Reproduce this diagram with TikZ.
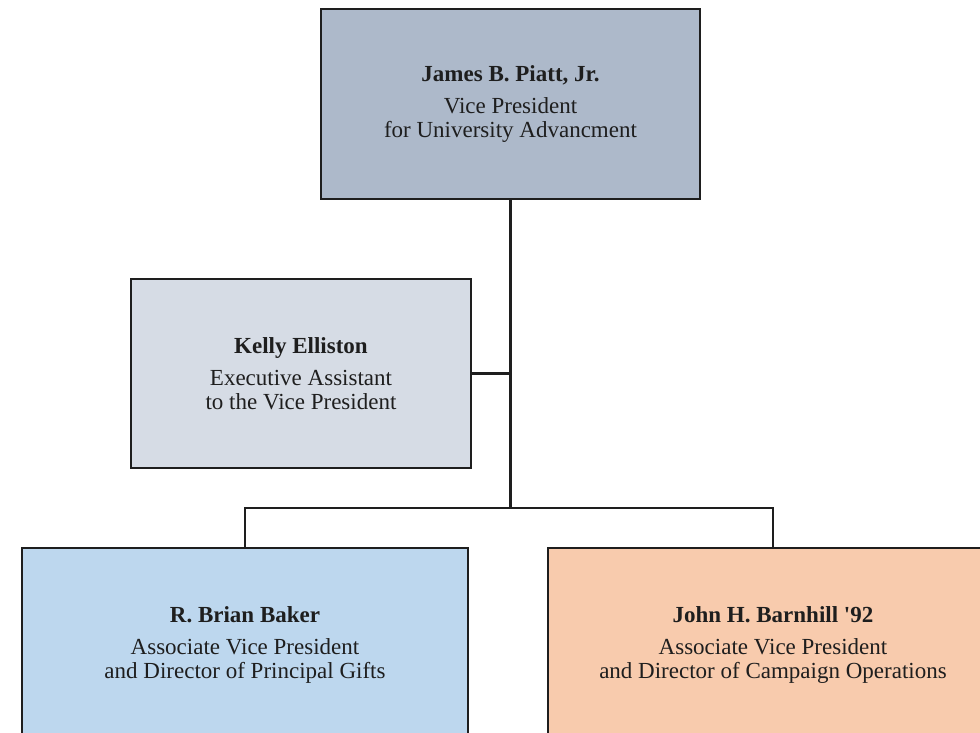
\documentclass[tikz,border=0pt]{standalone}
\usepackage{fontspec}
\setmainfont{Liberation Serif}
\usepackage{xcolor}
\usetikzlibrary{positioning}
\definecolor{headcolor}{HTML}{ADB9CA}
\definecolor{assistcolor}{HTML}{D6DCE5}
\definecolor{giftscolor}{HTML}{BDD7EE}
\definecolor{campcolor}{HTML}{F8CBAD}
\definecolor{inkcolor}{HTML}{1E1E1E}
\newcommand{\person}[2]{{\bfseries #1}\\[8.5pt] #2}

\begin{document}
\begin{tikzpicture}[
    x=1pt, y=-1pt,
    box/.style={draw=inkcolor, line width=2.8pt, align=center, inner sep=0pt, text=inkcolor, font=\fontsize{23}{24}\selectfont},
    link/.style={draw=inkcolor, line width=2.4pt}
]
    \useasboundingbox (0,0) rectangle (980,733);
    \clip (0,0) rectangle (980,733);
    % Vice President
    \node[box, fill=headcolor, minimum width=379pt, minimum height=190pt] (vp) at (510.5,104)
        {\person{James B. Piatt, Jr.}{Vice President\\for University Advancment}};
    % Assistant
    \node[box, fill=assistcolor, minimum width=340pt, minimum height=189pt] (assist) at (301,373.5)
        {\person{Kelly Elliston}{Executive Assistant\\to the Vice President}};
    % Associate Vice Presidents
    \node[box, fill=giftscolor, minimum width=446pt, minimum height=194pt] (gifts) at (245,645)
        {\person{R. Brian Baker}{Associate Vice President\\and Director of Principal Gifts}};
    \node[box, fill=campcolor, minimum width=450pt, minimum height=194pt] (camp) at (773,645)
        {\person{John H. Barnhill \textquotesingle92}{Associate Vice President\\and Director of Campaign Operations}};
    
    % Connections
    \coordinate (split) at (vp.south |- 0,508);
    \draw[link] (vp.south) -- (split);
    \draw[link] (assist.east) -- (assist.east -| vp.south);
    \draw[link] (gifts.north) -- (gifts.north |- split) -- (camp.north |- split) -- (camp.north);
\end{tikzpicture}
\end{document}
